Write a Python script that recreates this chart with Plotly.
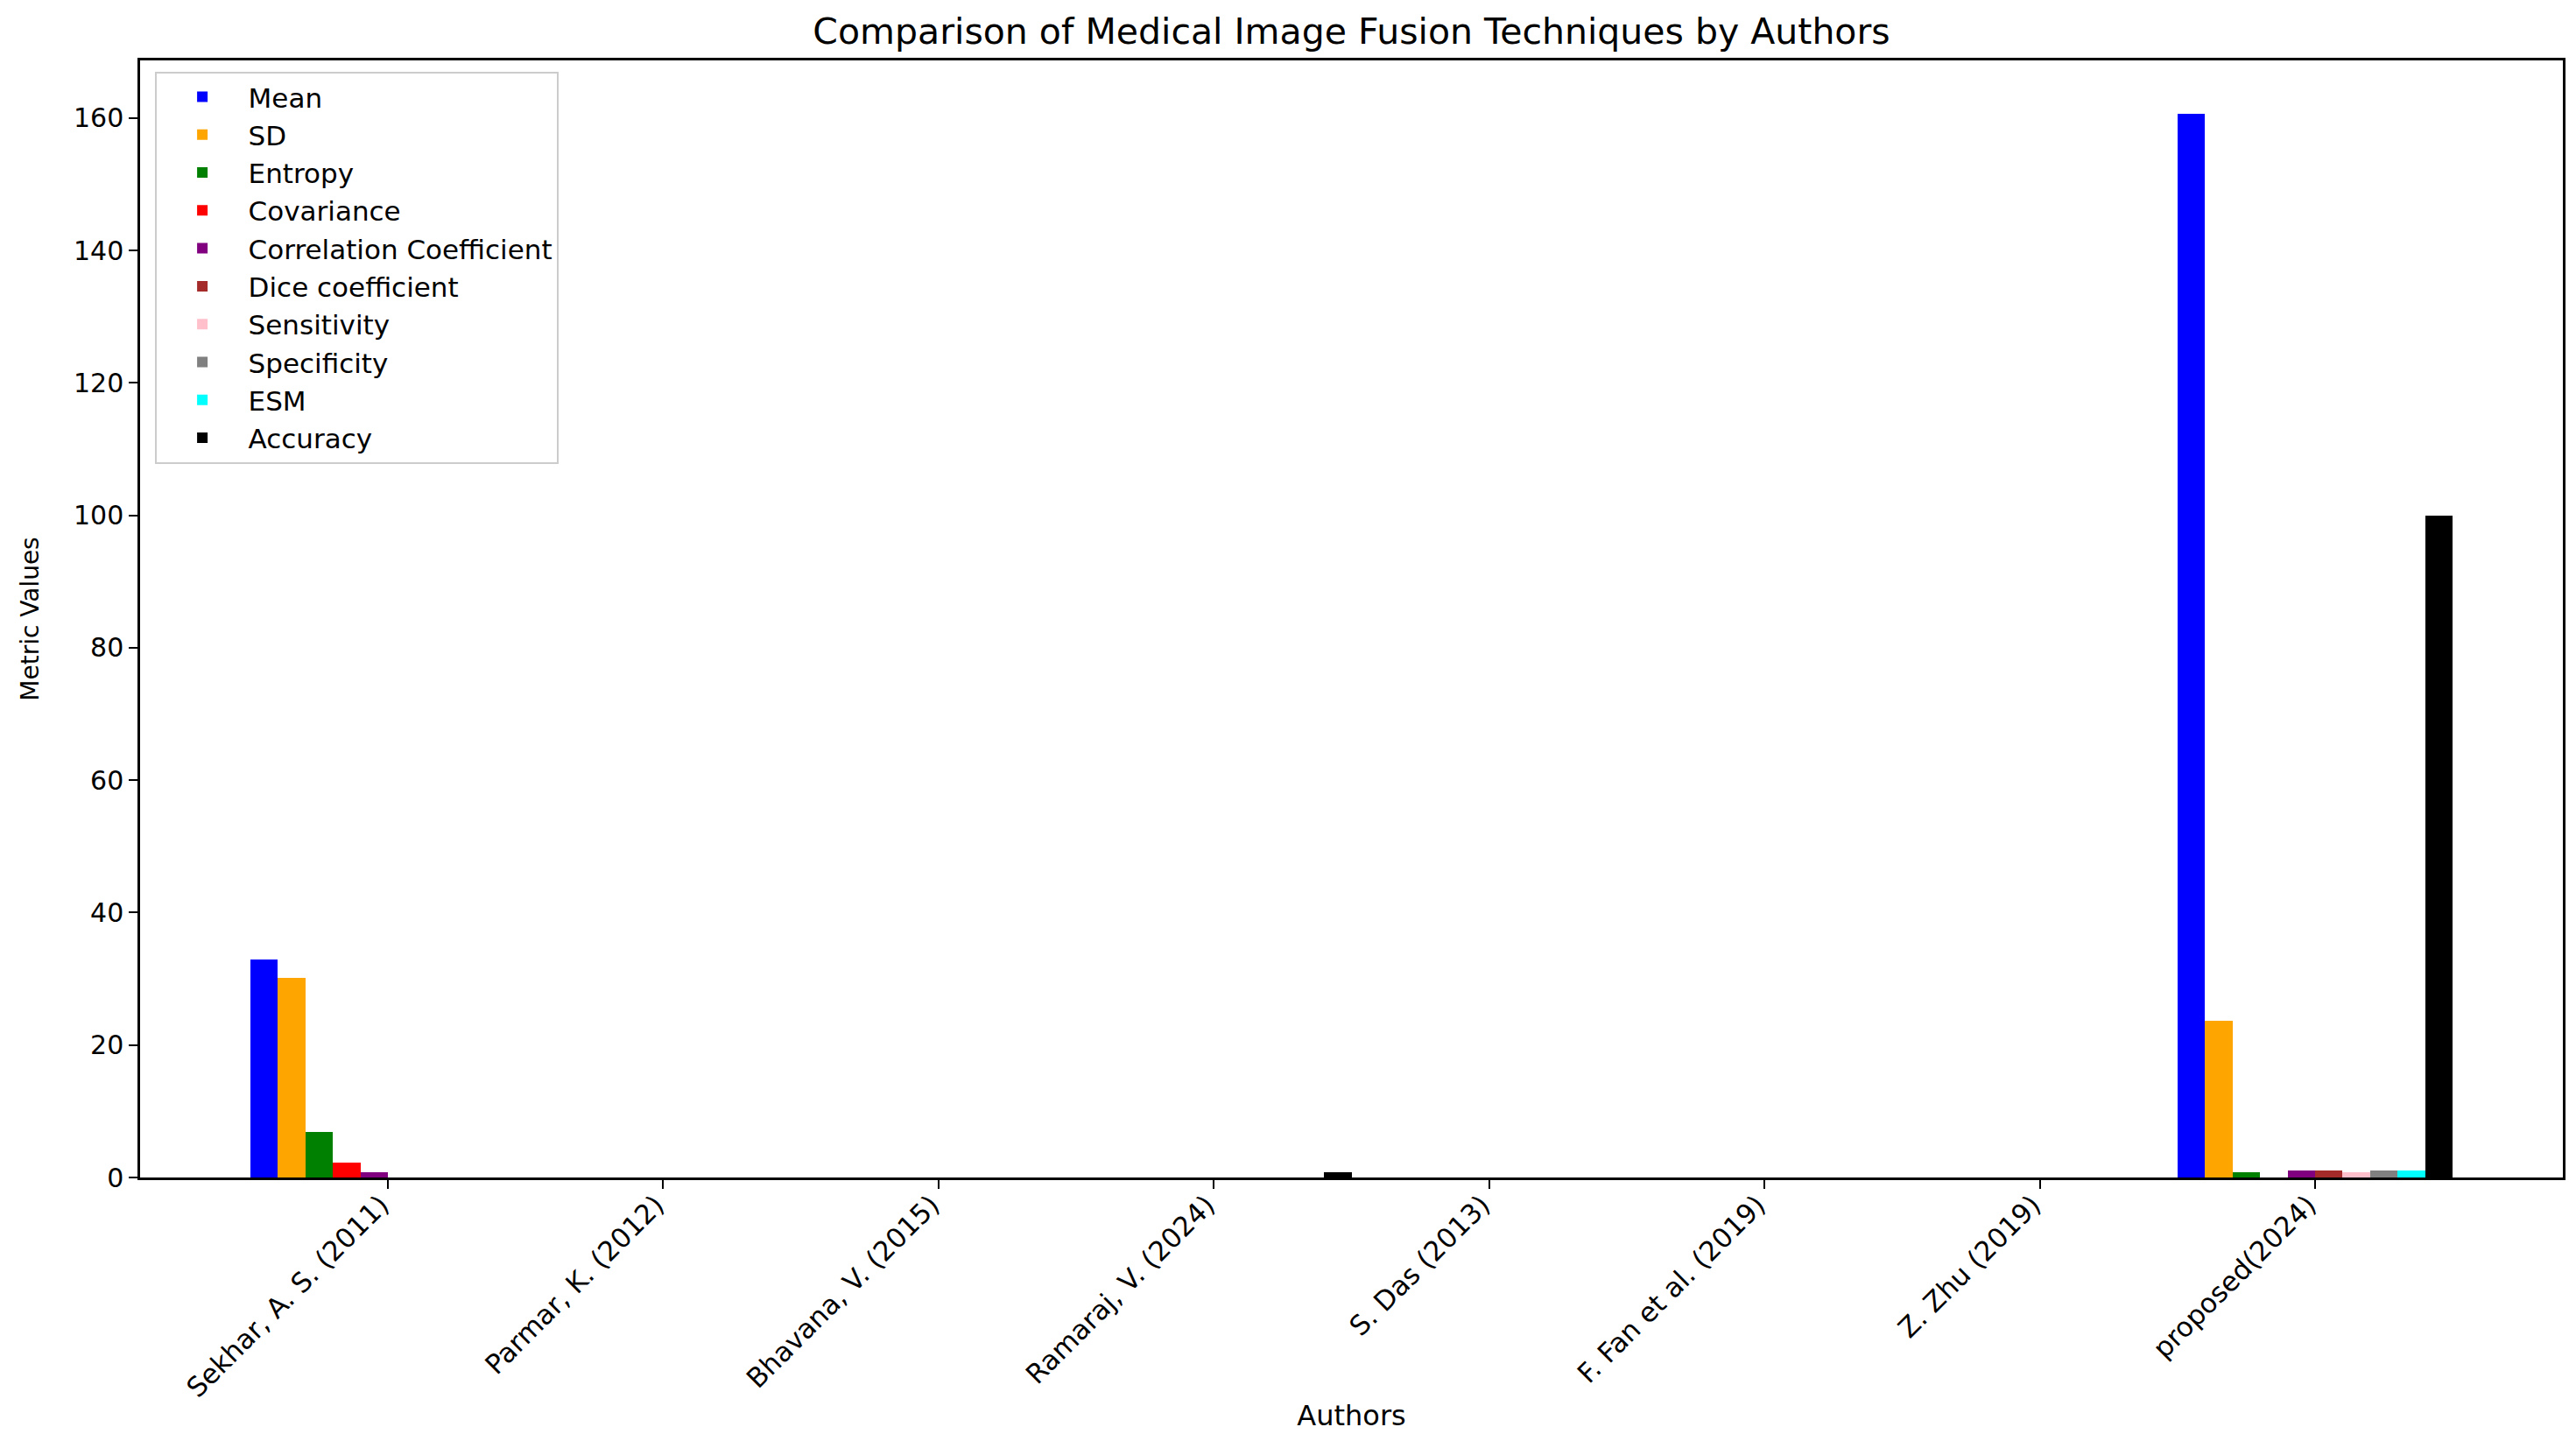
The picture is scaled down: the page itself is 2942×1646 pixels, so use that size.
import plotly.graph_objects as go

authors = ["Sekhar, A. S. (2011)", "Parmar, K. (2012)", "Bhavana, V. (2015)",
           "Ramaraj, V. (2024)", "S. Das (2013)", "F. Fan et al. (2019)",
           "Z. Zhu (2019)", "proposed(2024)"]

metrics = ["Mean", "SD", "Entropy", "Covariance", "Correlation Coefficient",
           "Dice coefficient", "Sensitivity", "Specificity", "ESM", "Accuracy"]

colors = ["blue", "orange", "green", "red", "purple",
          "brown", "pink", "gray", "cyan", "black"]

# one list per metric, one value per author (None = not reported)
mean = [32.9, None, None, None, None, None, None, 160.7]
sd = [30.1, None, None, None, None, None, None, 23.7]
entropy = [6.9, None, None, None, None, None, None, 0.8]
covariance = [2.2, None, None, None, None, None, None, None]
corr_coef = [0.85, None, None, None, None, None, None, 1.1]
dice = [None, None, None, None, None, None, None, 1.1]
sensitivity = [None, None, None, None, None, None, None, 0.8]
specificity = [None, None, None, None, None, None, None, 1.1]
esm = [None, None, None, None, None, None, None, 1.1]
accuracy = [None, None, None, 0.8, None, None, None, 99.9]

series = [mean, sd, entropy, covariance, corr_coef, dice,
          sensitivity, specificity, esm, accuracy]

FONT = "DejaVu Sans"

fig = go.Figure()
for name, vals, col in zip(metrics, series, colors):
    fig.add_trace(go.Bar(x=authors, y=vals, name=name,
                         marker=dict(color=col, line=dict(width=0)),
                         legendgroup=name))

axis_common = dict(showline=True, linecolor="black", linewidth=2.5, mirror=True,
                   ticks="outside", ticklen=10, tickwidth=2, tickcolor="black",
                   showgrid=False, zeroline=False, automargin=False)

# the page adds an 8px body margin, so the figure is a bit smaller than the window
fig.update_layout(
    width=2934, height=1638,
    margin=dict(l=152, r=15, t=61, b=301),
    paper_bgcolor="white", plot_bgcolor="white",
    barmode="group", bargap=0, bargroupgap=0,
    title=dict(text="Comparison of Medical Image Fusion Techniques by Authors",
               x=0.5, xref="paper", xanchor="center",
               y=1 - 28 / 1638, yref="container", yanchor="middle",
               font=dict(family=FONT, size=41, color="black")),
    legend=dict(x=0.006, y=0.99, xanchor="left", yanchor="top",
                bgcolor="white", bordercolor="#cccccc", borderwidth=2,
                font=dict(family=FONT, size=31, color="black"),
                itemwidth=95, tracegroupgap=0),
    font=dict(family=FONT, size=30, color="black"),
)

fig.update_xaxes(**axis_common, tickangle=-45, range=[-0.9, 7.9],
                 ticklabelstandoff=-12, ticklabelshift=-8,
                 tickfont=dict(family=FONT, size=31, color="black"),
                 title=dict(text="Authors", standoff=4,
                            font=dict(family=FONT, size=32, color="black")))
fig.update_yaxes(**axis_common, range=[0, 168.7], dtick=20,
                 tickfont=dict(family=FONT, size=30, color="black"),
                 title=dict(text="Metric Values", standoff=32,
                            font=dict(family=FONT, size=28, color="black")))

fig.write_html("out.html")
